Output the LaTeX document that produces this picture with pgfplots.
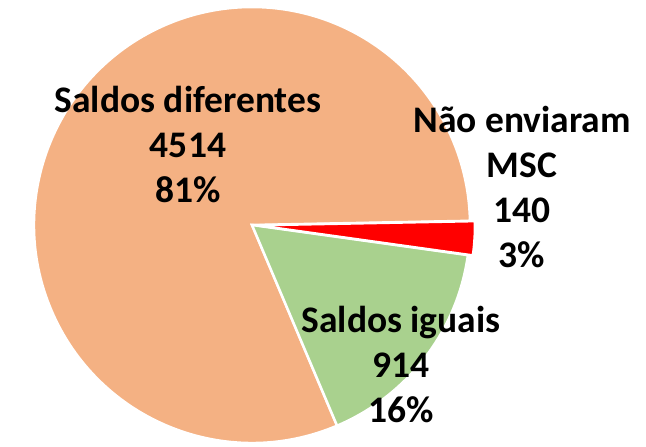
\documentclass[border=0pt]{standalone}
\usepackage{fontspec}
\setmainfont{Carlito}
\usepackage{pgfplots}
\pgfplotsset{compat=1.18}
\definecolor{cOrange}{HTML}{F4B183}
\definecolor{cGreen}{HTML}{A9D18E}
\definecolor{cRed}{HTML}{FF0000}

\begin{document}
\begin{tikzpicture}
% slice values: diferentes 4514, iguais 914, nao enviaram 140
\pgfmathsetmacro\tot{4514+914+140}
\pgfmathsetmacro\aA{1.1}
\pgfmathsetmacro\aB{\aA-140/\tot*360}
\pgfmathsetmacro\aC{\aB-914/\tot*360}
\pgfmathsetmacro\aD{\aA-360}
\pgfmathsetmacro\aM{(\aA+\aB)/2}
\begin{axis}[name=ax, scale only axis, width=646pt, height=447pt,
    xmin=0, xmax=646, ymin=0, ymax=447, hide axis, clip=true]
  \fill[cOrange, draw=white, line width=2.5pt] (axis cs:252,222) -- ++(\aC:218pt)
    arc[start angle=\aC, end angle=\aD, radius=218pt] -- cycle;
  \fill[cGreen, draw=white, line width=2.5pt] (axis cs:252,222) -- ++(\aB:218pt)
    arc[start angle=\aB, end angle=\aC, radius=218pt] -- cycle;
  \fill[cRed, draw=white, line width=2.5pt] ([shift={(\aM:5pt)}]axis cs:252,222) -- ++(\aA:218pt)
    arc[start angle=\aA, end angle=\aB, radius=218pt] -- cycle;
  \node[align=center, font=\bfseries\fontsize{37.5}{45}\selectfont] at (axis cs:188,302) {Saldos diferentes\\4514\\81\%};
  \node[align=center, font=\bfseries\fontsize{37.5}{45}\selectfont] at (axis cs:522,260) {Não enviaram\\MSC\\140\\3\%};
  \node[align=center, font=\bfseries\fontsize{37.5}{45}\selectfont] at (axis cs:401,82) {Saldos iguais\\914\\16\%};
\end{axis}
\pgfresetboundingbox
\useasboundingbox (ax.south west) rectangle (ax.north east);
\end{tikzpicture}
\end{document}
